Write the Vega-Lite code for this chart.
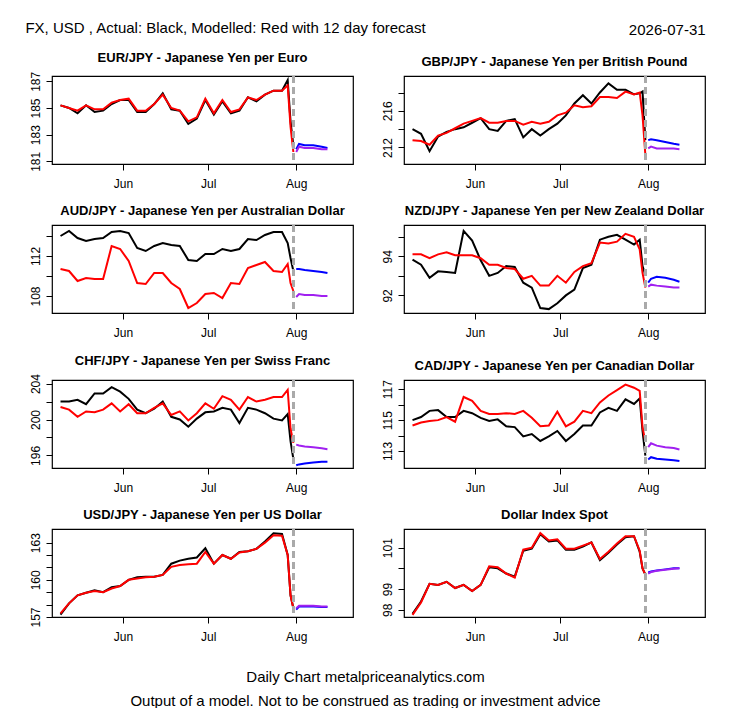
{
  "$schema": "https://vega.github.io/schema/vega-lite/v6.json",
  "background": "white",
  "padding": {"left": 25, "right": 5, "top": 20, "bottom": 5},
  "title": {
    "text": ["Daily Chart metalpriceanalytics.com", "Output of a model. Not to be construed as trading or investment advice"],
    "orient": "bottom", "anchor": "middle", "font": "Liberation Sans", "fontSize": 15, "fontWeight": "normal", "lineHeight": 24, "offset": 27
  },
  "datasets": {
    "fx": [
      {"p":"EUR","d":"2026-05-10","a":185.2,"m":185.2},{"p":"EUR","d":"2026-05-13","a":185.0,"m":185.0},{"p":"EUR","d":"2026-05-16","a":184.6,"m":184.8},{"p":"EUR","d":"2026-05-19","a":185.2,"m":185.2},{"p":"EUR","d":"2026-05-22","a":184.7,"m":184.9},{"p":"EUR","d":"2026-05-25","a":184.8,"m":184.9},{"p":"EUR","d":"2026-05-28","a":185.3,"m":185.4},{"p":"EUR","d":"2026-05-31","a":185.6,"m":185.6},{"p":"EUR","d":"2026-06-03","a":185.6,"m":185.7},{"p":"EUR","d":"2026-06-06","a":184.7,"m":184.8},{"p":"EUR","d":"2026-06-09","a":184.7,"m":184.8},{"p":"EUR","d":"2026-06-12","a":185.3,"m":185.3},{"p":"EUR","d":"2026-06-15","a":186.1,"m":186.0},{"p":"EUR","d":"2026-06-18","a":184.9,"m":185.0},{"p":"EUR","d":"2026-06-21","a":184.8,"m":184.8},{"p":"EUR","d":"2026-06-24","a":183.8,"m":184.0},{"p":"EUR","d":"2026-06-27","a":184.2,"m":184.3},{"p":"EUR","d":"2026-06-30","a":185.6,"m":185.7},{"p":"EUR","d":"2026-07-03","a":184.5,"m":184.6},{"p":"EUR","d":"2026-07-06","a":185.5,"m":185.6},{"p":"EUR","d":"2026-07-09","a":184.6,"m":184.7},{"p":"EUR","d":"2026-07-12","a":184.8,"m":184.9},{"p":"EUR","d":"2026-07-15","a":185.8,"m":185.8},{"p":"EUR","d":"2026-07-18","a":185.5,"m":185.6},{"p":"EUR","d":"2026-07-21","a":186.0,"m":186.0},{"p":"EUR","d":"2026-07-24","a":186.3,"m":186.3},{"p":"EUR","d":"2026-07-27","a":186.3,"m":186.3},{"p":"EUR","d":"2026-07-29","a":187.1,"m":186.7},{"p":"EUR","d":"2026-07-30","a":184.0,"m":183.6},{"p":"EUR","d":"2026-07-31","a":182.2,"m":181.7},
      {"p":"EUR","d":"2026-08-01","b":181.9,"f":181.7},{"p":"EUR","d":"2026-08-02","b":182.3,"f":182.1},{"p":"EUR","d":"2026-08-04","b":182.2,"f":182.0},{"p":"EUR","d":"2026-08-07","b":182.2,"f":182.0},{"p":"EUR","d":"2026-08-10","b":182.1,"f":181.9},{"p":"EUR","d":"2026-08-12","b":182.0,"f":181.9},

      {"p":"GBP","d":"2026-05-10","a":214.0,"m":212.8},{"p":"GBP","d":"2026-05-13","a":213.5,"m":212.7},{"p":"GBP","d":"2026-05-16","a":211.6,"m":212.3},{"p":"GBP","d":"2026-05-19","a":213.2,"m":213.3},{"p":"GBP","d":"2026-05-22","a":213.7,"m":213.6},{"p":"GBP","d":"2026-05-25","a":214.0,"m":214.1},{"p":"GBP","d":"2026-05-28","a":214.2,"m":214.6},{"p":"GBP","d":"2026-05-31","a":214.7,"m":214.9},{"p":"GBP","d":"2026-06-03","a":215.2,"m":215.2},{"p":"GBP","d":"2026-06-06","a":214.0,"m":214.7},{"p":"GBP","d":"2026-06-09","a":213.8,"m":214.7},{"p":"GBP","d":"2026-06-12","a":214.9,"m":214.9},{"p":"GBP","d":"2026-06-15","a":215.1,"m":214.9},{"p":"GBP","d":"2026-06-18","a":213.1,"m":214.5},{"p":"GBP","d":"2026-06-21","a":214.0,"m":214.8},{"p":"GBP","d":"2026-06-24","a":213.3,"m":214.6},{"p":"GBP","d":"2026-06-27","a":214.0,"m":214.8},{"p":"GBP","d":"2026-06-30","a":214.6,"m":215.5},{"p":"GBP","d":"2026-07-03","a":215.5,"m":215.8},{"p":"GBP","d":"2026-07-06","a":216.8,"m":216.6},{"p":"GBP","d":"2026-07-09","a":217.7,"m":216.4},{"p":"GBP","d":"2026-07-12","a":216.8,"m":216.5},{"p":"GBP","d":"2026-07-15","a":218.0,"m":217.5},{"p":"GBP","d":"2026-07-18","a":219.0,"m":217.5},{"p":"GBP","d":"2026-07-21","a":218.3,"m":217.4},{"p":"GBP","d":"2026-07-24","a":218.3,"m":218.1},{"p":"GBP","d":"2026-07-27","a":217.8,"m":217.8},{"p":"GBP","d":"2026-07-29","a":217.9,"m":218.0},{"p":"GBP","d":"2026-07-30","a":218.1,"m":215.5},{"p":"GBP","d":"2026-07-31","a":212.8,"m":211.2},
      {"p":"GBP","d":"2026-08-01","b":212.8,"f":211.9},{"p":"GBP","d":"2026-08-02","b":212.9,"f":212.1},{"p":"GBP","d":"2026-08-04","b":212.8,"f":211.9},{"p":"GBP","d":"2026-08-07","b":212.6,"f":211.9},{"p":"GBP","d":"2026-08-10","b":212.4,"f":211.9},{"p":"GBP","d":"2026-08-12","b":212.3,"f":211.8},

      {"p":"AUD","d":"2026-05-10","a":114.0,"m":110.7},{"p":"AUD","d":"2026-05-13","a":114.5,"m":110.5},{"p":"AUD","d":"2026-05-16","a":113.8,"m":109.5},{"p":"AUD","d":"2026-05-19","a":113.5,"m":109.8},{"p":"AUD","d":"2026-05-22","a":113.7,"m":109.7},{"p":"AUD","d":"2026-05-25","a":113.8,"m":109.7},{"p":"AUD","d":"2026-05-28","a":114.4,"m":113.0},{"p":"AUD","d":"2026-05-31","a":114.5,"m":112.7},{"p":"AUD","d":"2026-06-03","a":114.3,"m":111.5},{"p":"AUD","d":"2026-06-06","a":112.8,"m":109.3},{"p":"AUD","d":"2026-06-09","a":112.5,"m":109.2},{"p":"AUD","d":"2026-06-12","a":113.0,"m":110.3},{"p":"AUD","d":"2026-06-15","a":113.3,"m":110.3},{"p":"AUD","d":"2026-06-18","a":113.1,"m":109.3},{"p":"AUD","d":"2026-06-21","a":113.0,"m":108.7},{"p":"AUD","d":"2026-06-24","a":111.6,"m":106.8},{"p":"AUD","d":"2026-06-27","a":111.5,"m":107.3},{"p":"AUD","d":"2026-06-30","a":112.2,"m":108.2},{"p":"AUD","d":"2026-07-03","a":112.2,"m":108.3},{"p":"AUD","d":"2026-07-06","a":112.7,"m":107.8},{"p":"AUD","d":"2026-07-09","a":112.5,"m":109.3},{"p":"AUD","d":"2026-07-12","a":112.7,"m":109.2},{"p":"AUD","d":"2026-07-15","a":113.7,"m":110.8},{"p":"AUD","d":"2026-07-18","a":113.6,"m":111.1},{"p":"AUD","d":"2026-07-21","a":114.1,"m":111.4},{"p":"AUD","d":"2026-07-24","a":114.4,"m":110.5},{"p":"AUD","d":"2026-07-27","a":114.4,"m":110.4},{"p":"AUD","d":"2026-07-29","a":113.3,"m":111.2},{"p":"AUD","d":"2026-07-30","a":111.8,"m":109.3},{"p":"AUD","d":"2026-07-31","a":110.5,"m":108.5},
      {"p":"AUD","d":"2026-08-01","b":110.7,"f":107.9},{"p":"AUD","d":"2026-08-02","b":110.7,"f":108.2},{"p":"AUD","d":"2026-08-04","b":110.6,"f":108.1},{"p":"AUD","d":"2026-08-07","b":110.5,"f":108.1},{"p":"AUD","d":"2026-08-10","b":110.4,"f":108.0},{"p":"AUD","d":"2026-08-12","b":110.3,"f":108.0},

      {"p":"NZD","d":"2026-05-10","a":93.83,"m":94.1},{"p":"NZD","d":"2026-05-13","a":93.57,"m":94.1},{"p":"NZD","d":"2026-05-16","a":92.9,"m":93.9},{"p":"NZD","d":"2026-05-19","a":93.23,"m":94.1},{"p":"NZD","d":"2026-05-22","a":93.2,"m":94.2},{"p":"NZD","d":"2026-05-25","a":93.15,"m":94.05},{"p":"NZD","d":"2026-05-28","a":95.3,"m":94.05},{"p":"NZD","d":"2026-05-31","a":94.8,"m":94.05},{"p":"NZD","d":"2026-06-03","a":93.8,"m":93.9},{"p":"NZD","d":"2026-06-06","a":93.0,"m":93.57},{"p":"NZD","d":"2026-06-09","a":93.15,"m":93.57},{"p":"NZD","d":"2026-06-12","a":93.5,"m":93.4},{"p":"NZD","d":"2026-06-15","a":93.45,"m":93.35},{"p":"NZD","d":"2026-06-18","a":92.65,"m":92.85},{"p":"NZD","d":"2026-06-21","a":92.4,"m":93.0},{"p":"NZD","d":"2026-06-24","a":91.35,"m":92.5},{"p":"NZD","d":"2026-06-27","a":91.3,"m":92.5},{"p":"NZD","d":"2026-06-30","a":91.6,"m":93.0},{"p":"NZD","d":"2026-07-03","a":92.0,"m":92.65},{"p":"NZD","d":"2026-07-06","a":92.3,"m":93.2},{"p":"NZD","d":"2026-07-09","a":93.4,"m":93.5},{"p":"NZD","d":"2026-07-12","a":93.57,"m":93.65},{"p":"NZD","d":"2026-07-15","a":94.85,"m":94.7},{"p":"NZD","d":"2026-07-18","a":95.0,"m":94.65},{"p":"NZD","d":"2026-07-21","a":95.1,"m":94.75},{"p":"NZD","d":"2026-07-24","a":94.85,"m":95.15},{"p":"NZD","d":"2026-07-27","a":94.6,"m":95.0},{"p":"NZD","d":"2026-07-29","a":94.85,"m":94.35},{"p":"NZD","d":"2026-07-30","a":93.5,"m":93.15},{"p":"NZD","d":"2026-07-31","a":93.05,"m":92.4},
      {"p":"NZD","d":"2026-08-01","b":92.65,"f":92.45},{"p":"NZD","d":"2026-08-02","b":92.85,"f":92.55},{"p":"NZD","d":"2026-08-04","b":92.95,"f":92.5},{"p":"NZD","d":"2026-08-07","b":92.9,"f":92.45},{"p":"NZD","d":"2026-08-10","b":92.8,"f":92.4},{"p":"NZD","d":"2026-08-12","b":92.7,"f":92.4},

      {"p":"CHF","d":"2026-05-10","a":202.0,"m":201.4},{"p":"CHF","d":"2026-05-13","a":202.0,"m":201.1},{"p":"CHF","d":"2026-05-16","a":202.2,"m":200.3},{"p":"CHF","d":"2026-05-19","a":201.7,"m":200.9},{"p":"CHF","d":"2026-05-22","a":202.9,"m":200.8},{"p":"CHF","d":"2026-05-25","a":202.9,"m":201.1},{"p":"CHF","d":"2026-05-28","a":203.6,"m":201.8},{"p":"CHF","d":"2026-05-31","a":203.1,"m":200.9},{"p":"CHF","d":"2026-06-03","a":202.3,"m":201.7},{"p":"CHF","d":"2026-06-06","a":201.1,"m":200.7},{"p":"CHF","d":"2026-06-09","a":200.7,"m":200.7},{"p":"CHF","d":"2026-06-12","a":201.2,"m":201.3},{"p":"CHF","d":"2026-06-15","a":202.0,"m":201.8},{"p":"CHF","d":"2026-06-18","a":200.3,"m":200.5},{"p":"CHF","d":"2026-06-21","a":200.0,"m":200.9},{"p":"CHF","d":"2026-06-24","a":199.2,"m":199.9},{"p":"CHF","d":"2026-06-27","a":200.1,"m":200.7},{"p":"CHF","d":"2026-06-30","a":200.8,"m":201.8},{"p":"CHF","d":"2026-07-03","a":200.9,"m":201.2},{"p":"CHF","d":"2026-07-06","a":201.3,"m":202.6},{"p":"CHF","d":"2026-07-09","a":201.1,"m":202.2},{"p":"CHF","d":"2026-07-12","a":199.6,"m":201.1},{"p":"CHF","d":"2026-07-15","a":201.3,"m":202.5},{"p":"CHF","d":"2026-07-18","a":201.1,"m":202.0},{"p":"CHF","d":"2026-07-21","a":200.7,"m":202.2},{"p":"CHF","d":"2026-07-24","a":200.1,"m":202.5},{"p":"CHF","d":"2026-07-27","a":199.9,"m":202.5},{"p":"CHF","d":"2026-07-29","a":200.6,"m":203.3},{"p":"CHF","d":"2026-07-30","a":197.6,"m":199.0},{"p":"CHF","d":"2026-07-31","a":195.6,"m":197.4},
      {"p":"CHF","d":"2026-08-01","b":194.9,"f":197.2},{"p":"CHF","d":"2026-08-02","b":195.0,"f":197.1},{"p":"CHF","d":"2026-08-04","b":195.1,"f":197.0},{"p":"CHF","d":"2026-08-07","b":195.2,"f":196.9},{"p":"CHF","d":"2026-08-10","b":195.3,"f":196.8},{"p":"CHF","d":"2026-08-12","b":195.3,"f":196.7},

      {"p":"CAD","d":"2026-05-10","a":115.0,"m":114.65},{"p":"CAD","d":"2026-05-13","a":115.2,"m":114.85},{"p":"CAD","d":"2026-05-16","a":115.6,"m":114.95},{"p":"CAD","d":"2026-05-19","a":115.65,"m":115.0},{"p":"CAD","d":"2026-05-22","a":115.2,"m":115.2},{"p":"CAD","d":"2026-05-25","a":115.2,"m":114.9},{"p":"CAD","d":"2026-05-28","a":115.6,"m":116.5},{"p":"CAD","d":"2026-05-31","a":115.45,"m":116.25},{"p":"CAD","d":"2026-06-03","a":115.15,"m":115.6},{"p":"CAD","d":"2026-06-06","a":114.95,"m":115.4},{"p":"CAD","d":"2026-06-09","a":115.05,"m":115.4},{"p":"CAD","d":"2026-06-12","a":114.6,"m":115.45},{"p":"CAD","d":"2026-06-15","a":114.55,"m":115.4},{"p":"CAD","d":"2026-06-18","a":113.95,"m":115.6},{"p":"CAD","d":"2026-06-21","a":114.1,"m":115.15},{"p":"CAD","d":"2026-06-24","a":113.65,"m":114.6},{"p":"CAD","d":"2026-06-27","a":113.95,"m":114.65},{"p":"CAD","d":"2026-06-30","a":114.3,"m":115.55},{"p":"CAD","d":"2026-07-03","a":113.65,"m":114.6},{"p":"CAD","d":"2026-07-06","a":114.1,"m":114.9},{"p":"CAD","d":"2026-07-09","a":114.65,"m":115.6},{"p":"CAD","d":"2026-07-12","a":114.65,"m":115.45},{"p":"CAD","d":"2026-07-15","a":115.5,"m":116.15},{"p":"CAD","d":"2026-07-18","a":115.8,"m":116.6},{"p":"CAD","d":"2026-07-21","a":115.6,"m":116.95},{"p":"CAD","d":"2026-07-24","a":116.35,"m":117.3},{"p":"CAD","d":"2026-07-27","a":116.05,"m":117.1},{"p":"CAD","d":"2026-07-29","a":116.4,"m":116.9},{"p":"CAD","d":"2026-07-30","a":114.3,"m":114.55},{"p":"CAD","d":"2026-07-31","a":112.7,"m":113.6},
      {"p":"CAD","d":"2026-08-01","b":112.45,"f":113.25},{"p":"CAD","d":"2026-08-02","b":112.6,"f":113.5},{"p":"CAD","d":"2026-08-04","b":112.5,"f":113.35},{"p":"CAD","d":"2026-08-07","b":112.45,"f":113.25},{"p":"CAD","d":"2026-08-10","b":112.4,"f":113.2},{"p":"CAD","d":"2026-08-12","b":112.35,"f":113.1},

      {"p":"USD","d":"2026-05-10","a":157.2,"m":157.3},{"p":"USD","d":"2026-05-13","a":158.1,"m":158.1},{"p":"USD","d":"2026-05-16","a":158.75,"m":158.75},{"p":"USD","d":"2026-05-19","a":158.95,"m":158.95},{"p":"USD","d":"2026-05-22","a":159.15,"m":159.1},{"p":"USD","d":"2026-05-25","a":159.0,"m":159.0},{"p":"USD","d":"2026-05-28","a":159.4,"m":159.3},{"p":"USD","d":"2026-05-31","a":159.5,"m":159.5},{"p":"USD","d":"2026-06-03","a":160.0,"m":160.0},{"p":"USD","d":"2026-06-06","a":160.2,"m":160.1},{"p":"USD","d":"2026-06-09","a":160.25,"m":160.2},{"p":"USD","d":"2026-06-12","a":160.25,"m":160.25},{"p":"USD","d":"2026-06-15","a":160.4,"m":160.4},{"p":"USD","d":"2026-06-18","a":161.3,"m":161.05},{"p":"USD","d":"2026-06-21","a":161.55,"m":161.2},{"p":"USD","d":"2026-06-24","a":161.7,"m":161.25},{"p":"USD","d":"2026-06-27","a":161.8,"m":161.3},{"p":"USD","d":"2026-06-30","a":162.55,"m":162.25},{"p":"USD","d":"2026-07-03","a":161.3,"m":161.3},{"p":"USD","d":"2026-07-06","a":162.0,"m":162.0},{"p":"USD","d":"2026-07-09","a":161.7,"m":161.7},{"p":"USD","d":"2026-07-12","a":162.25,"m":162.2},{"p":"USD","d":"2026-07-15","a":162.3,"m":162.3},{"p":"USD","d":"2026-07-18","a":162.5,"m":162.5},{"p":"USD","d":"2026-07-21","a":163.1,"m":163.0},{"p":"USD","d":"2026-07-24","a":163.75,"m":163.6},{"p":"USD","d":"2026-07-27","a":163.7,"m":163.55},{"p":"USD","d":"2026-07-29","a":162.0,"m":162.0},{"p":"USD","d":"2026-07-30","a":158.75,"m":158.75},{"p":"USD","d":"2026-07-31","a":157.7,"m":157.7},
      {"p":"USD","d":"2026-08-01","b":157.6,"f":157.7},{"p":"USD","d":"2026-08-02","b":157.85,"f":157.9},{"p":"USD","d":"2026-08-04","b":157.85,"f":157.9},{"p":"USD","d":"2026-08-07","b":157.85,"f":157.9},{"p":"USD","d":"2026-08-10","b":157.8,"f":157.85},{"p":"USD","d":"2026-08-12","b":157.8,"f":157.85},

      {"p":"DXY","d":"2026-05-10","a":97.8,"m":97.75},{"p":"DXY","d":"2026-05-13","a":98.4,"m":98.35},{"p":"DXY","d":"2026-05-16","a":99.25,"m":99.25},{"p":"DXY","d":"2026-05-19","a":99.2,"m":99.2},{"p":"DXY","d":"2026-05-22","a":99.35,"m":99.35},{"p":"DXY","d":"2026-05-25","a":99.05,"m":99.05},{"p":"DXY","d":"2026-05-28","a":99.2,"m":99.2},{"p":"DXY","d":"2026-05-31","a":98.9,"m":98.9},{"p":"DXY","d":"2026-06-03","a":99.2,"m":99.2},{"p":"DXY","d":"2026-06-06","a":100.05,"m":100.1},{"p":"DXY","d":"2026-06-09","a":100.0,"m":100.05},{"p":"DXY","d":"2026-06-12","a":99.75,"m":99.75},{"p":"DXY","d":"2026-06-15","a":99.6,"m":99.55},{"p":"DXY","d":"2026-06-18","a":100.85,"m":100.9},{"p":"DXY","d":"2026-06-21","a":100.95,"m":101.0},{"p":"DXY","d":"2026-06-24","a":101.65,"m":101.7},{"p":"DXY","d":"2026-06-27","a":101.3,"m":101.35},{"p":"DXY","d":"2026-06-30","a":101.35,"m":101.4},{"p":"DXY","d":"2026-07-03","a":100.9,"m":100.95},{"p":"DXY","d":"2026-07-06","a":100.9,"m":100.95},{"p":"DXY","d":"2026-07-09","a":101.05,"m":101.1},{"p":"DXY","d":"2026-07-12","a":101.25,"m":101.25},{"p":"DXY","d":"2026-07-15","a":100.4,"m":100.45},{"p":"DXY","d":"2026-07-18","a":100.75,"m":100.8},{"p":"DXY","d":"2026-07-21","a":101.15,"m":101.2},{"p":"DXY","d":"2026-07-24","a":101.5,"m":101.55},{"p":"DXY","d":"2026-07-27","a":101.55,"m":101.55},{"p":"DXY","d":"2026-07-29","a":100.8,"m":100.85},{"p":"DXY","d":"2026-07-30","a":100.0,"m":100.0},{"p":"DXY","d":"2026-07-31","a":99.7,"m":99.7},
      {"p":"DXY","d":"2026-08-01","b":99.8,"f":99.75},{"p":"DXY","d":"2026-08-02","b":99.85,"f":99.82},{"p":"DXY","d":"2026-08-04","b":99.9,"f":99.88},{"p":"DXY","d":"2026-08-07","b":99.95,"f":99.93},{"p":"DXY","d":"2026-08-10","b":100.0,"f":99.98},{"p":"DXY","d":"2026-08-12","b":100.0,"f":100.0}
    ]
  },
  "data": {"name": "fx"},
  "vconcat": [
    {
      "title": {"text": "2026-07-31", "anchor": "end", "font": "Liberation Sans", "fontSize": 15, "fontWeight": "normal", "dy": 17, "offset": 0},
      "vconcat": [
        {
          "title": {"text": "FX, USD , Actual: Black, Modelled: Red with 12 day forecast", "anchor": "start", "font": "Liberation Sans", "fontSize": 15, "fontWeight": "normal", "offset": 16, "dx": -3},
          "columns": 2,
          "spacing": {"row": 14, "column": 26},
          "concat": [
            {
              "title": "EUR/JPY - Japanese Yen per Euro",
              "width": 301, "height": 88,
              "transform": [{"filter": "datum.p == 'EUR'"}, {"fold": ["a", "m", "b", "f"], "as": ["s", "v"]}, {"filter": "isValid(datum.v)"}],
              "layer": [
                {"mark": {"type": "line", "strokeWidth": 2}, "encoding": {
                  "x": {"field": "d", "type": "temporal", "scale": {"domain": [{"year": 2026, "month": 5, "date": 7}, {"year": 2026, "month": 8, "date": 21}]}, "axis": {"values": [{"year": 2026, "month": 6, "date": 1}, {"year": 2026, "month": 7, "date": 1}, {"year": 2026, "month": 8, "date": 1}], "format": "%b", "title": null}},
                  "y": {"field": "v", "type": "quantitative", "scale": {"domain": [180.8, 187.4], "nice": false, "zero": false}, "axis": {"values": [181, 183, 185, 187], "title": null}},
                  "color": {"field": "s", "type": "nominal", "scale": {"domain": ["a", "m", "b", "f"], "range": ["black", "#ff0000", "#0000ff", "#a020f0"]}, "legend": null}
                }},
                {"mark": {"type": "rule", "strokeDash": [7, 4], "color": "#aaaaaa", "strokeWidth": 2.5}, "encoding": {"x": {"datum": {"year": 2026, "month": 7, "date": 31}}}}
              ]
            },
            {
              "title": "GBP/JPY - Japanese Yen per British Pound",
              "width": 301, "height": 88,
              "transform": [{"filter": "datum.p == 'GBP'"}, {"fold": ["a", "m", "b", "f"], "as": ["s", "v"]}, {"filter": "isValid(datum.v)"}],
              "layer": [
                {"mark": {"type": "line", "strokeWidth": 2}, "encoding": {
                  "x": {"field": "d", "type": "temporal", "scale": {"domain": [{"year": 2026, "month": 5, "date": 7}, {"year": 2026, "month": 8, "date": 21}]}, "axis": {"values": [{"year": 2026, "month": 6, "date": 1}, {"year": 2026, "month": 7, "date": 1}, {"year": 2026, "month": 8, "date": 1}], "format": "%b", "title": null}},
                  "y": {"field": "v", "type": "quantitative", "scale": {"domain": [210.2, 219.8], "nice": false, "zero": false}, "axis": {"values": [212, 214, 216, 218], "labelExpr": "datum.value % 4 == 0 ? datum.label : ''", "title": null}},
                  "color": {"field": "s", "type": "nominal", "scale": {"domain": ["a", "m", "b", "f"], "range": ["black", "#ff0000", "#0000ff", "#a020f0"]}, "legend": null}
                }},
                {"mark": {"type": "rule", "strokeDash": [7, 4], "color": "#aaaaaa", "strokeWidth": 2.5}, "encoding": {"x": {"datum": {"year": 2026, "month": 7, "date": 31}}}}
              ]
            },
            {
              "title": "AUD/JPY - Japanese Yen per Australian Dollar",
              "width": 301, "height": 88,
              "transform": [{"filter": "datum.p == 'AUD'"}, {"fold": ["a", "m", "b", "f"], "as": ["s", "v"]}, {"filter": "isValid(datum.v)"}],
              "layer": [
                {"mark": {"type": "line", "strokeWidth": 2}, "encoding": {
                  "x": {"field": "d", "type": "temporal", "scale": {"domain": [{"year": 2026, "month": 5, "date": 7}, {"year": 2026, "month": 8, "date": 21}]}, "axis": {"values": [{"year": 2026, "month": 6, "date": 1}, {"year": 2026, "month": 7, "date": 1}, {"year": 2026, "month": 8, "date": 1}], "format": "%b", "title": null}},
                  "y": {"field": "v", "type": "quantitative", "scale": {"domain": [106.3, 115.1], "nice": false, "zero": false}, "axis": {"values": [108, 110, 112, 114], "labelExpr": "datum.value % 4 == 0 ? datum.label : ''", "title": null}},
                  "color": {"field": "s", "type": "nominal", "scale": {"domain": ["a", "m", "b", "f"], "range": ["black", "#ff0000", "#0000ff", "#a020f0"]}, "legend": null}
                }},
                {"mark": {"type": "rule", "strokeDash": [7, 4], "color": "#aaaaaa", "strokeWidth": 2.5}, "encoding": {"x": {"datum": {"year": 2026, "month": 7, "date": 31}}}}
              ]
            },
            {
              "title": "NZD/JPY - Japanese Yen per New Zealand Dollar",
              "width": 301, "height": 88,
              "transform": [{"filter": "datum.p == 'NZD'"}, {"fold": ["a", "m", "b", "f"], "as": ["s", "v"]}, {"filter": "isValid(datum.v)"}],
              "layer": [
                {"mark": {"type": "line", "strokeWidth": 2}, "encoding": {
                  "x": {"field": "d", "type": "temporal", "scale": {"domain": [{"year": 2026, "month": 5, "date": 7}, {"year": 2026, "month": 8, "date": 21}]}, "axis": {"values": [{"year": 2026, "month": 6, "date": 1}, {"year": 2026, "month": 7, "date": 1}, {"year": 2026, "month": 8, "date": 1}], "format": "%b", "title": null}},
                  "y": {"field": "v", "type": "quantitative", "scale": {"domain": [91.1, 95.6], "nice": false, "zero": false}, "axis": {"values": [92, 93, 94, 95], "labelExpr": "datum.value % 2 == 0 ? datum.label : ''", "title": null}},
                  "color": {"field": "s", "type": "nominal", "scale": {"domain": ["a", "m", "b", "f"], "range": ["black", "#ff0000", "#0000ff", "#a020f0"]}, "legend": null}
                }},
                {"mark": {"type": "rule", "strokeDash": [7, 4], "color": "#aaaaaa", "strokeWidth": 2.5}, "encoding": {"x": {"datum": {"year": 2026, "month": 7, "date": 31}}}}
              ]
            },
            {
              "title": "CHF/JPY - Japanese Yen per Swiss Franc",
              "width": 301, "height": 88,
              "transform": [{"filter": "datum.p == 'CHF'"}, {"fold": ["a", "m", "b", "f"], "as": ["s", "v"]}, {"filter": "isValid(datum.v)"}],
              "layer": [
                {"mark": {"type": "line", "strokeWidth": 2}, "encoding": {
                  "x": {"field": "d", "type": "temporal", "scale": {"domain": [{"year": 2026, "month": 5, "date": 7}, {"year": 2026, "month": 8, "date": 21}]}, "axis": {"values": [{"year": 2026, "month": 6, "date": 1}, {"year": 2026, "month": 7, "date": 1}, {"year": 2026, "month": 8, "date": 1}], "format": "%b", "title": null}},
                  "y": {"field": "v", "type": "quantitative", "scale": {"domain": [194.6, 204.4], "nice": false, "zero": false}, "axis": {"values": [196, 198, 200, 202, 204], "labelExpr": "datum.value % 4 == 0 ? datum.label : ''", "title": null}},
                  "color": {"field": "s", "type": "nominal", "scale": {"domain": ["a", "m", "b", "f"], "range": ["black", "#ff0000", "#0000ff", "#a020f0"]}, "legend": null}
                }},
                {"mark": {"type": "rule", "strokeDash": [7, 4], "color": "#aaaaaa", "strokeWidth": 2.5}, "encoding": {"x": {"datum": {"year": 2026, "month": 7, "date": 31}}}}
              ]
            },
            {
              "title": "CAD/JPY - Japanese Yen per Canadian Dollar",
              "width": 301, "height": 88,
              "transform": [{"filter": "datum.p == 'CAD'"}, {"fold": ["a", "m", "b", "f"], "as": ["s", "v"]}, {"filter": "isValid(datum.v)"}],
              "layer": [
                {"mark": {"type": "line", "strokeWidth": 2}, "encoding": {
                  "x": {"field": "d", "type": "temporal", "scale": {"domain": [{"year": 2026, "month": 5, "date": 7}, {"year": 2026, "month": 8, "date": 21}]}, "axis": {"values": [{"year": 2026, "month": 6, "date": 1}, {"year": 2026, "month": 7, "date": 1}, {"year": 2026, "month": 8, "date": 1}], "format": "%b", "title": null}},
                  "y": {"field": "v", "type": "quantitative", "scale": {"domain": [111.9, 117.6], "nice": false, "zero": false}, "axis": {"values": [113, 114, 115, 116, 117], "labelExpr": "datum.value % 2 == 1 ? datum.label : ''", "title": null}},
                  "color": {"field": "s", "type": "nominal", "scale": {"domain": ["a", "m", "b", "f"], "range": ["black", "#ff0000", "#0000ff", "#a020f0"]}, "legend": null}
                }},
                {"mark": {"type": "rule", "strokeDash": [7, 4], "color": "#aaaaaa", "strokeWidth": 2.5}, "encoding": {"x": {"datum": {"year": 2026, "month": 7, "date": 31}}}}
              ]
            },
            {
              "title": "USD/JPY - Japanese Yen per US Dollar",
              "width": 301, "height": 88,
              "transform": [{"filter": "datum.p == 'USD'"}, {"fold": ["a", "m", "b", "f"], "as": ["s", "v"]}, {"filter": "isValid(datum.v)"}],
              "layer": [
                {"mark": {"type": "line", "strokeWidth": 2}, "encoding": {
                  "x": {"field": "d", "type": "temporal", "scale": {"domain": [{"year": 2026, "month": 5, "date": 7}, {"year": 2026, "month": 8, "date": 21}]}, "axis": {"values": [{"year": 2026, "month": 6, "date": 1}, {"year": 2026, "month": 7, "date": 1}, {"year": 2026, "month": 8, "date": 1}], "format": "%b", "title": null}},
                  "y": {"field": "v", "type": "quantitative", "scale": {"domain": [157.0, 164.1], "nice": false, "zero": false}, "axis": {"values": [157, 158, 159, 160, 161, 162, 163], "labelExpr": "(datum.value - 157) % 3 == 0 ? datum.label : ''", "title": null}},
                  "color": {"field": "s", "type": "nominal", "scale": {"domain": ["a", "m", "b", "f"], "range": ["black", "#ff0000", "#0000ff", "#a020f0"]}, "legend": null}
                }},
                {"mark": {"type": "rule", "strokeDash": [7, 4], "color": "#aaaaaa", "strokeWidth": 2.5}, "encoding": {"x": {"datum": {"year": 2026, "month": 7, "date": 31}}}}
              ]
            },
            {
              "title": "Dollar Index Spot",
              "width": 301, "height": 88,
              "transform": [{"filter": "datum.p == 'DXY'"}, {"fold": ["a", "m", "b", "f"], "as": ["s", "v"]}, {"filter": "isValid(datum.v)"}],
              "layer": [
                {"mark": {"type": "line", "strokeWidth": 2}, "encoding": {
                  "x": {"field": "d", "type": "temporal", "scale": {"domain": [{"year": 2026, "month": 5, "date": 7}, {"year": 2026, "month": 8, "date": 21}]}, "axis": {"values": [{"year": 2026, "month": 6, "date": 1}, {"year": 2026, "month": 7, "date": 1}, {"year": 2026, "month": 8, "date": 1}], "format": "%b", "title": null}},
                  "y": {"field": "v", "type": "quantitative", "scale": {"domain": [97.65, 101.9], "nice": false, "zero": false}, "axis": {"values": [98, 99, 100, 101], "labelExpr": "datum.value != 100 ? datum.label : ''", "title": null}},
                  "color": {"field": "s", "type": "nominal", "scale": {"domain": ["a", "m", "b", "f"], "range": ["black", "#ff0000", "#0000ff", "#a020f0"]}, "legend": null}
                }},
                {"mark": {"type": "rule", "strokeDash": [7, 4], "color": "#aaaaaa", "strokeWidth": 2.5}, "encoding": {"x": {"datum": {"year": 2026, "month": 7, "date": 31}}}}
              ]
            }
          ]
        }
      ]
    }
  ],
  "config": {
    "font": "Liberation Sans",
    "view": {"stroke": "black", "strokeWidth": 1.2},
    "title": {"font": "Liberation Sans", "fontSize": 13, "fontWeight": "bold", "color": "black", "offset": 6},
    "axis": {"grid": false, "domain": false, "tickColor": "black", "tickSize": 6, "labelFont": "Liberation Sans", "labelFontSize": 12, "labelColor": "black", "labelPadding": 4},
    "axisY": {"labelAngle": -90, "labelAlign": "center", "labelBaseline": "bottom"},
    "axisX": {"labelPadding": 8}
  }
}
